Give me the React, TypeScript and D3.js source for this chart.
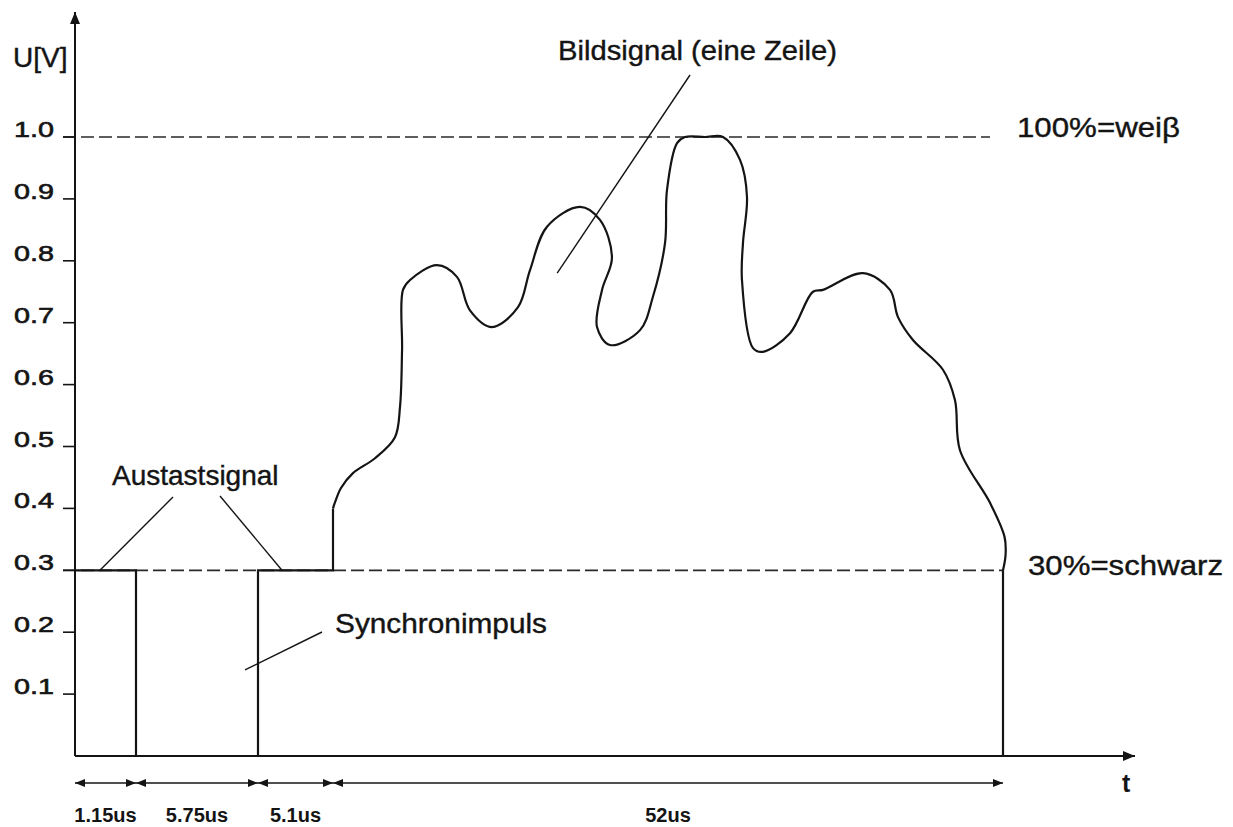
import React from "react";
import * as d3 from "d3";

// voltage ticks on the U axis
const yTicks = [0.1, 0.2, 0.3, 0.4, 0.5, 0.6, 0.7, 0.8, 0.9, 1.0];

// time segments of one line (us), drawn out of scale like the original sketch
const segmentBounds = [0, 1.15, 6.9, 12, 64];
const segmentLabels = ["1.15us", "5.75us", "5.1us", "52us"];

// blanking + sync pulse (t in us, U in V)
const syncT = [0, 1.15, 1.15, 6.9, 6.9, 12, 12];
const syncU = [0.3, 0.3, 0, 0, 0.3, 0.3, 0.4];

// picture signal
const pictureT = [
  12.0, 12.16, 12.62, 13.55, 15.26, 16.81, 17.2, 17.36, 17.43, 17.98, 20.07,
  21.62, 22.63, 24.34, 26.36, 27.29, 28.61, 31.17, 32.72, 33.65, 32.88, 32.49,
  33.5, 35.83, 36.83, 37.77, 37.92, 38.7, 39.32, 40.87, 42.27, 43.59, 44.13,
  43.82, 43.74, 44.6, 45.37, 47.47, 49.25, 50.03, 53.13, 55.23, 55.85, 57.01,
  59.34, 60.27, 60.66, 62.99, 64.12, 64.2, 64.0,
];
const pictureU = [
  0.4, 0.41, 0.433, 0.457, 0.481, 0.515, 0.564, 0.656, 0.753, 0.769, 0.793,
  0.774, 0.72, 0.693, 0.725, 0.785, 0.855, 0.887, 0.866, 0.805, 0.753, 0.693,
  0.664, 0.688, 0.742, 0.829, 0.914, 0.99, 1.0, 1.0, 1.0, 0.963, 0.903, 0.829,
  0.769, 0.659, 0.653, 0.683, 0.75, 0.753, 0.78, 0.753, 0.709, 0.672, 0.624,
  0.575, 0.494, 0.409, 0.354, 0.325, 0.3,
];

// end of the line back to zero
const tailT = [64, 64];
const tailU = [0.3, 0];

const W = 1233;
const H = 827;

const x = d3
  .scaleLinear()
  .domain(segmentBounds)
  .range([75, 136, 258, 333, 1003]);
const y = d3.scaleLinear().domain([0, 1]).range([756, 137]);

const zip = (ts: number[], us: number[]) =>
  ts.map((t, i) => [t, us[i]] as [number, number]);

const stepLine = d3
  .line<[number, number]>()
  .x((d) => x(d[0]))
  .y((d) => y(d[1]));

const smoothLine = d3
  .line<[number, number]>()
  .x((d) => x(d[0]))
  .y((d) => y(d[1]))
  .curve(d3.curveCatmullRom.alpha(0.5));

const sans = "'Liberation Sans', Arial, sans-serif";
const ink = "#141414";

export default function App() {
  const dimY = 783;
  return (
    <svg
      width={W}
      height={H}
      style={{ position: "absolute", left: 0, top: 0, background: "#fff" }}
    >
      <defs>
        <marker
          id="dimArrow"
          viewBox="0 0 10 8"
          refX="10"
          refY="4"
          markerWidth="10"
          markerHeight="8"
          markerUnits="userSpaceOnUse"
          orient="auto-start-reverse"
        >
          <path d="M0,0 L10,4 L0,8 Z" fill={ink} />
        </marker>
        <marker
          id="axisArrow"
          viewBox="0 0 12 10"
          refX="12"
          refY="5"
          markerWidth="12"
          markerHeight="10"
          markerUnits="userSpaceOnUse"
          orient="auto"
        >
          <path d="M0,0 L12,5 L0,10 Z" fill={ink} />
        </marker>
      </defs>

      {/* reference levels */}
      <line
        x1={63}
        x2={990}
        y1={y(1)}
        y2={y(1)}
        stroke="#2a2a2a"
        strokeWidth={1.7}
        strokeDasharray="13,5"
      />
      <line
        x1={63}
        x2={1004}
        y1={y(0.3)}
        y2={y(0.3)}
        stroke="#2a2a2a"
        strokeWidth={1.7}
        strokeDasharray="13,5"
      />

      {/* axes */}
      <line
        x1={75}
        x2={75}
        y1={y(0)}
        y2={12}
        stroke={ink}
        strokeWidth={2}
        markerEnd="url(#axisArrow)"
      />
      <line
        x1={75}
        x2={1135}
        y1={y(0)}
        y2={y(0)}
        stroke={ink}
        strokeWidth={2}
        markerEnd="url(#axisArrow)"
      />
      <text
        x={13}
        y={67}
        fontFamily={sans}
        fontSize={28}
        fill={ink}
        stroke={ink}
        strokeWidth={0.4}
      >
        U[V]
      </text>
      <text
        x={1122}
        y={792}
        fontFamily={sans}
        fontSize={25}
        fontWeight="bold"
        fill={ink}
      >
        t
      </text>

      {yTicks.map((v) => (
        <g key={v}>
          <line
            x1={63}
            x2={75}
            y1={y(v)}
            y2={y(v)}
            stroke={ink}
            strokeWidth={1.6}
          />
          <text
            x={54}
            y={y(v)}
            textAnchor="end"
            fontFamily={sans}
            fontSize={22}
            fill={ink}
            stroke={ink}
            strokeWidth={0.6}
            textLength={40}
            lengthAdjust="spacingAndGlyphs"
          >
            {v.toFixed(1)}
          </text>
        </g>
      ))}

      {/* signal */}
      <path
        d={stepLine(zip(syncT, syncU)) || ""}
        fill="none"
        stroke={ink}
        strokeWidth={2.2}
      />
      <path
        d={smoothLine(zip(pictureT, pictureU)) || ""}
        fill="none"
        stroke={ink}
        strokeWidth={2.2}
        strokeLinejoin="round"
      />
      <path
        d={stepLine(zip(tailT, tailU)) || ""}
        fill="none"
        stroke={ink}
        strokeWidth={2.2}
      />

      {/* time segment dimensions */}
      {segmentLabels.map((label, i) => {
        const a = x(segmentBounds[i]);
        const b = x(segmentBounds[i + 1]);
        return (
          <g key={label}>
            <line
              x1={a}
              x2={b}
              y1={dimY}
              y2={dimY}
              stroke={ink}
              strokeWidth={1.6}
              markerStart="url(#dimArrow)"
              markerEnd="url(#dimArrow)"
            />
            <text
              x={(a + b) / 2}
              y={822}
              textAnchor="middle"
              fontFamily={sans}
              fontWeight="bold"
              fontSize={20}
              fill={ink}
            >
              {label}
            </text>
          </g>
        );
      })}

      {/* annotations */}
      <g stroke={ink} strokeWidth={1.4}>
        <line x1={x(0.47)} y1={y(0.3)} x2={173} y2={497} />
        <line x1={220} y1={496} x2={x(8.53)} y2={y(0.3)} />
        <line x1={322} y1={632} x2={x(6.29)} y2={y(0.139)} />
        <line x1={x(29.4)} y1={y(0.78)} x2={690} y2={75} />
      </g>
      <g fontFamily={sans} fontSize={28} fill={ink} stroke={ink} strokeWidth={0.4}>
        <text x={112} y={485}>Austastsignal</text>
        <text x={335} y={633} textLength={212} lengthAdjust="spacingAndGlyphs">
          Synchronimpuls
        </text>
        <text x={558} y={60} textLength={279} lengthAdjust="spacingAndGlyphs">
          Bildsignal (eine Zeile)
        </text>
        <text x={1017} y={137} textLength={163} lengthAdjust="spacingAndGlyphs">
          100%=weiβ
        </text>
        <text x={1028} y={575} textLength={195} lengthAdjust="spacingAndGlyphs">
          30%=schwarz
        </text>
      </g>
    </svg>
  );
}
